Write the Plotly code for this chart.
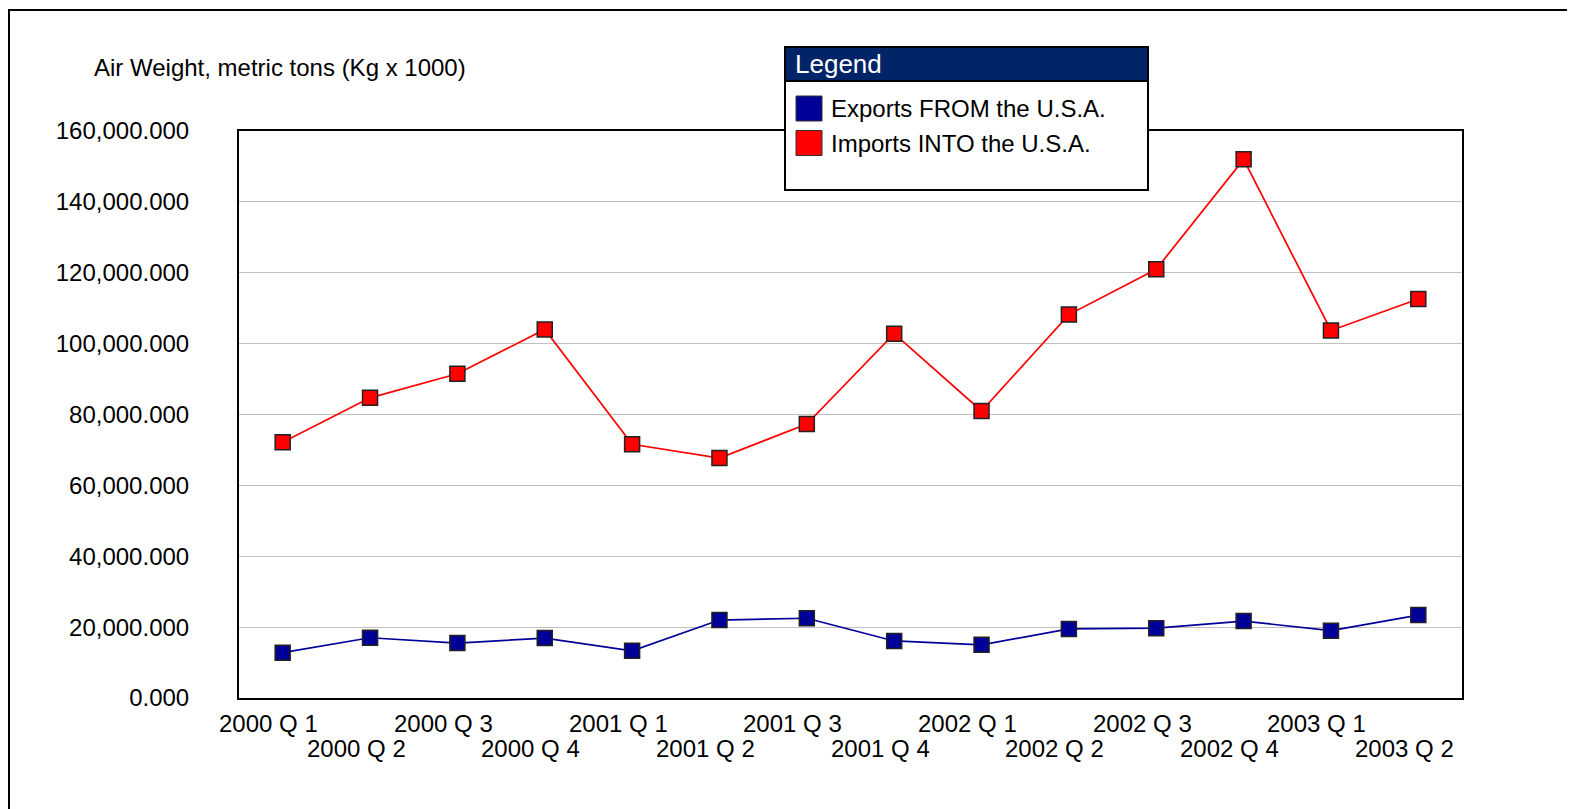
import plotly.graph_objects as go

W, H = 1575, 809
# page pixels of the reference; the page adds an 8px body margin around the figure
OFF = 8
PLOT_L, PLOT_R, PLOT_T, PLOT_B = 239, 1462, 131, 698

quarters = [
    "2000 Q 1", "2000 Q 2", "2000 Q 3", "2000 Q 4",
    "2001 Q 1", "2001 Q 2", "2001 Q 3", "2001 Q 4",
    "2002 Q 1", "2002 Q 2", "2002 Q 3", "2002 Q 4",
    "2003 Q 1", "2003 Q 2",
]
exports_tons = [
    12800, 17000, 15500, 16900, 13300, 22000, 22500,
    16100, 15000, 19500, 19700, 21700, 19000, 23400,
]
imports_tons = [
    72200, 84700, 91500, 104000, 71600, 67700, 77300,
    102800, 81000, 108200, 121000, 152000, 103700, 112600,
]
series_names = ["Exports FROM the U.S.A.", "Imports INTO the U.S.A."]
series_colors = ["#000099", "#ff0000"]
y_title = "Air Weight, metric tons (Kg x 1000)"

FONT = "Liberation Sans, Arial, sans-serif"


def px(x):
    return (x - PLOT_L) / (PLOT_R - PLOT_L)


def py(y):
    return (PLOT_B - y) / (PLOT_B - PLOT_T)


fig = go.Figure()
for name, vals, color in zip(series_names, [exports_tons, imports_tons], series_colors):
    fig.add_trace(
        go.Scatter(
            x=quarters,
            y=vals,
            mode="lines+markers",
            name=name,
            line=dict(color=color, width=1.7),
            marker=dict(symbol="square", size=15, color=color,
                        line=dict(color="#222222", width=1.5)),
        )
    )

shapes = [
    # outer frame (only top/left edges fall inside the picture)
    dict(type="rect", xref="paper", yref="paper",
         x0=px(9), x1=px(1700), y0=py(900), y1=py(10),
         line=dict(color="black", width=2), fillcolor="rgba(0,0,0,0)", layer="below"),
    # legend box
    dict(type="rect", xref="paper", yref="paper",
         x0=px(785), x1=px(1148), y0=py(190), y1=py(47),
         line=dict(color="black", width=2), fillcolor="white", layer="above"),
    dict(type="rect", xref="paper", yref="paper",
         x0=px(785), x1=px(1148), y0=py(81), y1=py(47),
         line=dict(color="black", width=2), fillcolor="#002468", layer="above"),
]
annotations = [
    dict(text=y_title, xref="paper", yref="paper", x=px(92), y=py(68),
         xanchor="left", yanchor="middle", showarrow=False,
         font=dict(size=24, color="black", family=FONT)),
    dict(text="Legend", xref="paper", yref="paper", x=px(793), y=py(64),
         xanchor="left", yanchor="middle", showarrow=False,
         font=dict(size=26, color="white", family=FONT)),
]
for i, (name, color) in enumerate(zip(series_names, series_colors)):
    top = 96 + i * 34.5
    shapes.append(dict(type="rect", xref="paper", yref="paper",
                       x0=px(796), x1=px(822), y0=py(top + 25), y1=py(top),
                       line=dict(color="#333333", width=1), fillcolor=color, layer="above"))
    annotations.append(dict(text=name, xref="paper", yref="paper", x=px(829), y=py(top + 12.5),
                            xanchor="left", yanchor="middle", showarrow=False,
                            font=dict(size=24, color="black", family=FONT)))

# staggered category labels
for i, q in enumerate(quarters):
    annotations.append(dict(text=q, xref="x", yref="paper", x=q, y=0,
                            xanchor="center", yanchor="middle", showarrow=False,
                            xshift=-14, yshift=-25 if i % 2 == 0 else -50,
                            font=dict(size=24, color="black", family=FONT)))

fig.update_layout(
    width=W, height=H,
    margin=dict(l=PLOT_L - OFF, r=W - PLOT_R + OFF, t=PLOT_T - OFF, b=H - PLOT_B + OFF,
                autoexpand=False),
    paper_bgcolor="white", plot_bgcolor="white",
    showlegend=False,
    font=dict(family=FONT, size=24, color="black"),
    shapes=shapes,
    annotations=annotations,
)
fig.update_xaxes(type="category", range=[-0.5, len(quarters) - 0.5],
                 showticklabels=False, showgrid=False, zeroline=False,
                 showline=True, mirror=True, linecolor="black", linewidth=2, ticks="")
fig.update_yaxes(range=[0, 160000], dtick=20000, tickformat=",.3f",
                 showgrid=True, gridcolor="#c0c0c0", gridwidth=1.3, zeroline=False,
                 showline=True, mirror=True, linecolor="black", linewidth=2, ticks="",
                 ticklabelstandoff=43, tickfont=dict(size=24, color="black", family=FONT))

fig.write_html("out.html")
